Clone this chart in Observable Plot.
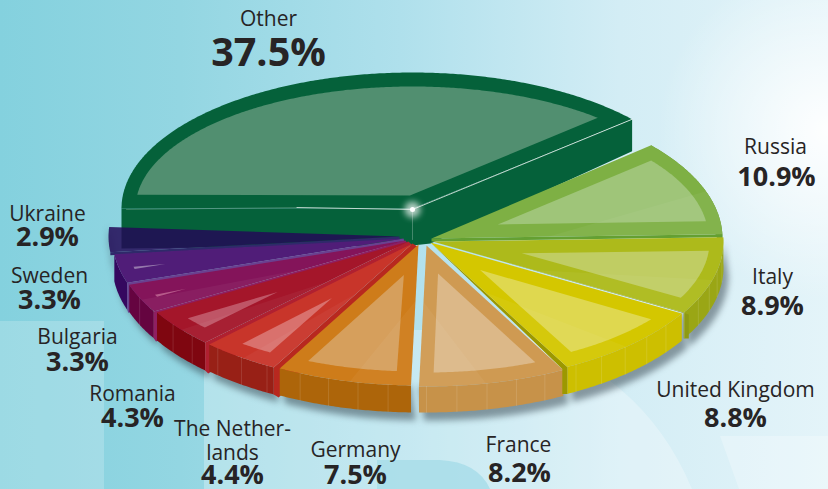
<!DOCTYPE html>
<html>
<head>
<meta charset="utf-8">
<script src="https://cdn.jsdelivr.net/npm/d3@7"></script>
<script src="https://cdn.jsdelivr.net/npm/@observablehq/plot@0.6"></script>
<style>
  html, body { margin: 0; padding: 0; background: #fff; }
  #chart { width: 828px; height: 489px; overflow: hidden; }
  #chart svg { display: block; }
</style>
</head>
<body>
<div id="chart"></div>
<script>
// ---- data ----
const categories = ["Other", "Russia", "Italy", "United Kingdom", "France", "Germany", "The Nether-\nlands", "Romania", "Bulgaria", "Sweden", "Ukraine"];
const shares = [37.5, 10.9, 8.9, 8.8, 8.2, 7.5, 4.4, 4.3, 3.3, 3.3, 2.9];
const valueLabels = ["37.5%", "10.9%", "8.9%", "8.8%", "8.2%", "7.5%", "4.4%", "4.3%", "3.3%", "3.3%", "2.9%"];

// ---- styles ----
const rimColors   = ["#05613a", "#7eb044", "#adba1b", "#d4c700", "#cf9a52", "#ce7c1a", "#c8352a", "#a4162a", "#84145a", "#501d78", "rgba(35,11,87,.85)"];
const facetColors = ["#518f70", "#9fc579", "#c0cd63", "#dfd84f", "#dcb888", "#d69f5c", "#d9716d", "#bf5566", "#b65a8a", "#9578ac", "#4a4a7a"];
const wallColors  = ["#05613a", "#6a9a36", "#9aa615", "#cdbf00", "#c79249", "#ad650a", "#982016", "#7f0610", "#650440", "#35085f", null];
const stripeColors = [null, "#64a032", "#8e9a12", "#9c9800", null, null, "#b8281f", "#b02030", "#8f1f62", "#6a4090", "#2f2a6a"];

// ---- layout ----
const pie = {cx: 412, cy: 240, rx: 291, ryFront: 141};
const ryBack = [136, 142, 136, 136, 136, 136, 136, 136, 136, 136, 136];
const otherEndAngle = 41;
const sliceOffset = [[0,-32],[19,-2],[20,1],[18,2],[14,5],[6,4],[0,3],[-4,1],[-7,0],[-9,-2],[-13,-4]];
const sliceDepth = [35, 27, 26, 27, 26, 27, 27, 28, 27, 27, 27];
const insetPx = [13, 13, 13, 13, 13, 13, 13, 13, 13, 12.5, 11.5];
const stripeShift = [null, [0,3], [5,0], [-5,0], null, null, [5,3], [3,3], [2,3], [1,3], [0,3]];
const wedgeStripe = [false, false, true, true, false, false, false, false, false, false, false];
const glossFrom = [null, "a1", "a1", "a1", "a1", "a0", "a0", "a0", "a0", null, null];
const rimInset = 14;
const drawOrder = [0, 1, 2, 10, 9, 8, 7, 6, 5, 4, 3];
const namePos = [[268,18],[775,146],[772,276],[735,389],[518,444],[355,449],[232,440],[132,393],[77,336],[49,275],[47,213]];
const valuePos = [[268,53],[776,177],[772,306],[735,418],[519,473],[355,475],[232,475],[132,418],[77,362],[49,300],[47,237]];

// ---- geometry derived from the shares ----
const rad = d => d * Math.PI / 180;
let running = otherEndAngle;
const slices = categories.map((name, i) => {
  const a0 = i === 0 ? 180 : running;
  const a1 = i === 0 ? otherEndAngle : running - 3.6 * shares[i];
  if (i > 0) running = a1;
  return {i, name, a0, a1, ax: pie.cx + sliceOffset[i][0], ay: pie.cy + sliceOffset[i][1], t: sliceDepth[i]};
});
function rimPoint(s, deg, inset = 0) {
  const sin = Math.sin(rad(deg)), cos = Math.cos(rad(deg));
  const ry = sin >= 0 ? ryBack[s.i] : pie.ryFront;
  return [s.ax + (pie.rx - inset) * cos, s.ay - (ry - inset) * sin];
}
function arc(s, from, to, inset = 0) {
  const n = Math.max(2, Math.ceil(Math.abs(from - to) / 0.5));
  return d3.range(n + 1).map(k => rimPoint(s, from + (to - from) * k / n, inset));
}
function insetPolygon(s, d) {
  const apex = [s.ax, s.ay];
  const c0 = rimPoint(s, s.a0), c1 = rimPoint(s, s.a1);
  const edge = c => { const dx = c[0]-apex[0], dy = c[1]-apex[1], l = Math.hypot(dx, dy); return [dx/l, dy/l]; };
  const e0 = edge(c0), e1 = edge(c1);
  const n0 = [-e0[1], e0[0]], n1 = [e1[1], -e1[0]];           // inward normals (clockwise sweep)
  const dist = (p, n) => (p[0]-apex[0])*n[0] + (p[1]-apex[1])*n[1];
  const det = e0[0]*(-e1[1]) - (-e1[0])*e0[1];
  const bx = d*(n1[0]-n0[0]), by = d*(n1[1]-n0[1]);
  const u = (bx*(-e1[1]) - (-e1[0])*by) / det;
  const tip = [apex[0] + d*n0[0] + u*e0[0], apex[1] + d*n0[1] + u*e0[1]];
  const rim = arc(s, s.a0, s.a1, rimInset).filter(p => dist(p, n0) >= d && dist(p, n1) >= d);
  return [tip, ...rim];
}

const rows = [], shadowRows = [], glossRows = [];
function addPoly(target, id, fill, pts) { pts.forEach(p => target.push({id, fill, x: p[0], y: p[1]})); }

drawOrder.forEach(i => {
  const s = slices[i];
  const outer = arc(s, s.a0, s.a1);
  if (i !== 0 && wallColors[i]) {
    addPoly(rows, `wall${i}`, wallColors[i], [...outer, ...outer.slice().reverse().map(p => [p[0], p[1] + s.t])]);
  }
  if (i === 0) {
    const c0 = rimPoint(s, s.a0), c1 = rimPoint(s, s.a1);
    addPoly(rows, "otherWall", wallColors[0], [c0, [s.ax, s.ay], c1, [c1[0], c1[1] + 32], [s.ax + 18, s.ay + 35], [s.ax, s.ay + 37], [c0[0], c0[1] + 40]]);
  }
  if (stripeShift[i]) {
    const [wx, wy] = stripeShift[i];
    const c = rimPoint(s, i < 5 ? s.a1 : s.a0);
    const drop = i === 1 || i === 10 ? 0 : s.t;
    const tipEnd = wedgeStripe[i]
      ? [[c[0] + wx, c[1] + 2], [s.ax, s.ay]]
      : [[s.ax + wx, s.ay + wy], [s.ax, s.ay]];
    addPoly(rows, `stripe${i}`, stripeColors[i], [[s.ax, s.ay], c, [c[0], c[1] + drop], [c[0] + wx, c[1] + drop + wy], ...tipEnd]);
  }
  addPoly(rows, `top${i}`, rimColors[i], [[s.ax, s.ay], ...outer]);
  addPoly(rows, `facet${i}`, facetColors[i], insetPolygon(s, insetPx[i]));
  if (glossFrom[i]) {
    const from = glossFrom[i] === "a0" ? s.a0 : s.a1;
    const to = s.a0 + (s.a1 - s.a0) * (glossFrom[i] === "a0" ? 0.45 : 0.55);
    const c = rimPoint(s, from);
    addPoly(glossRows, `gloss${i}`, "white", [[s.ax + (c[0]-s.ax)*.4, s.ay + (c[1]-s.ay)*.4], ...arc(s, from, to)]);
  }
  // soft ground shadow under the front rim
  if (i !== 0 && i !== 1) {
    const low = arc(s, Math.min(s.a0, 0), s.a1);
    addPoly(shadowRows, `sh${i}`, "#2f3f4a", [...low, ...low.slice().reverse().map(p => [p[0] + 5, p[1] + s.t + 8])]);
  }
});

// thin seams on the outer walls
const seamRows = [];
slices.filter(s => s.i > 1 && s.i < 9).forEach(s => {
  for (let a = Math.ceil(s.a1 / 6) * 6; a < s.a0; a += 6) {
    if (a > -4) continue;
    const p = rimPoint(s, a);
    seamRows.push({id: `${s.i}:${a}`, x: p[0], y: p[1]}, {id: `${s.i}:${a}`, x: p[0], y: p[1] + s.t});
  }
});

const o = slices[0];
const spark = [{x: o.ax, y: o.ay + 1}];
const rightCorner = rimPoint(o, o.a1);
const leftCorner = rimPoint(o, o.a0);
const glintRight = [{x: spark[0].x, y: spark[0].y}, {x: rightCorner[0], y: rightCorner[1]}];
const glintLeft = [{x: spark[0].x, y: spark[0].y}, {x: (spark[0].x + leftCorner[0]) / 2 + 30, y: spark[0].y - 2}];
const glintFar = [{x: (spark[0].x + leftCorner[0]) / 2 + 30, y: spark[0].y - 2}, {x: leftCorner[0] + 5, y: leftCorner[1] + 1}];
const glintDown = [{x: spark[0].x, y: spark[0].y}, {x: spark[0].x, y: spark[0].y + 30}];

const labels = categories.map((name, i) => ({name, value: valueLabels[i],
  nx: namePos[i][0], ny: namePos[i][1], vx: valuePos[i][0], vy: valuePos[i][1], big: i === 0}));

const ink = "#272425";
const face = "'Open Sans', sans-serif";
const backdrop = `<svg xmlns='http://www.w3.org/2000/svg' width='828' height='489'>
<rect x='0' y='321' width='104' height='168' fill='white' fill-opacity='.2'/>
<path d='M204 330H500Q640 365 692 489H204Z' fill='white' fill-opacity='.28'/>
<path d='M377 489V460H440Q478 462 490 489Z' fill='#a8dde9' fill-opacity='.85'/>
<path d='M720 436H828V489H739Z' fill='white' fill-opacity='.25'/>
</svg>`;

const chart = Plot.plot({
  width: 828,
  height: 489,
  margin: 0,
  x: {domain: [0, 828], range: [0, 828], axis: null},
  y: {domain: [0, 489], range: [0, 489], axis: null},
  style: {
    background: `url("data:image/svg+xml,${encodeURIComponent(backdrop)}") no-repeat,
      radial-gradient(circle at 828px 130px, rgba(255,255,255,.95) 0, rgba(255,255,255,0) 170px),
      linear-gradient(90deg, #84d1de 0, #93d6e2 180px, #afe0ec 400px, #d3edf5 620px, #e4f4f9 828px)`
  },
  marks: [
    Plot.line(shadowRows, {x: "x", y: "y", z: "id", fill: "fill", fillOpacity: 0.5, stroke: "none", curve: "linear-closed", imageFilter: "blur(3px)"}),
    Plot.line(rows, {x: "x", y: "y", z: "id", fill: "fill", stroke: "none", curve: "linear-closed"}),
    Plot.line(glossRows, {x: "x", y: "y", z: "id", fill: "fill", fillOpacity: 0.045, stroke: "none", curve: "linear-closed"}),
    Plot.line(seamRows, {x: "x", y: "y", z: "id", stroke: "white", strokeOpacity: 0.12, strokeWidth: 1}),
    Plot.line(glintRight, {x: "x", y: "y", stroke: "white", strokeWidth: 1, strokeOpacity: 0.75}),
    Plot.line(glintLeft, {x: "x", y: "y", stroke: "white", strokeWidth: 1, strokeOpacity: 0.7}),
    Plot.line(glintFar, {x: "x", y: "y", stroke: "white", strokeWidth: 1, strokeOpacity: 0.2}),
    Plot.line(glintDown, {x: "x", y: "y", stroke: "white", strokeWidth: 1, strokeOpacity: 0.25}),
    Plot.dot(spark, {x: "x", y: "y", r: 8, fill: "white", fillOpacity: 0.7, imageFilter: "blur(3px)"}),
    Plot.dot(spark, {x: "x", y: "y", r: 2.5, fill: "white"}),
    Plot.text(labels, {x: "nx", y: "ny", text: "name", fill: ink, fontFamily: face, fontSize: 21, lineHeight: 1.15, textAnchor: "middle", lineAnchor: "middle"}),
    Plot.text(labels.filter(d => !d.big), {x: "vx", y: "vy", text: "value", fill: ink, fontFamily: face, fontSize: 27, fontWeight: 700, textAnchor: "middle", lineAnchor: "middle"}),
    Plot.text(labels.filter(d => d.big), {x: "vx", y: "vy", text: "value", fill: ink, fontFamily: face, fontSize: 39.5, fontWeight: 700, textAnchor: "middle", lineAnchor: "middle"})
  ]
});
document.getElementById("chart").appendChild(chart);
</script>
</body>
</html>
